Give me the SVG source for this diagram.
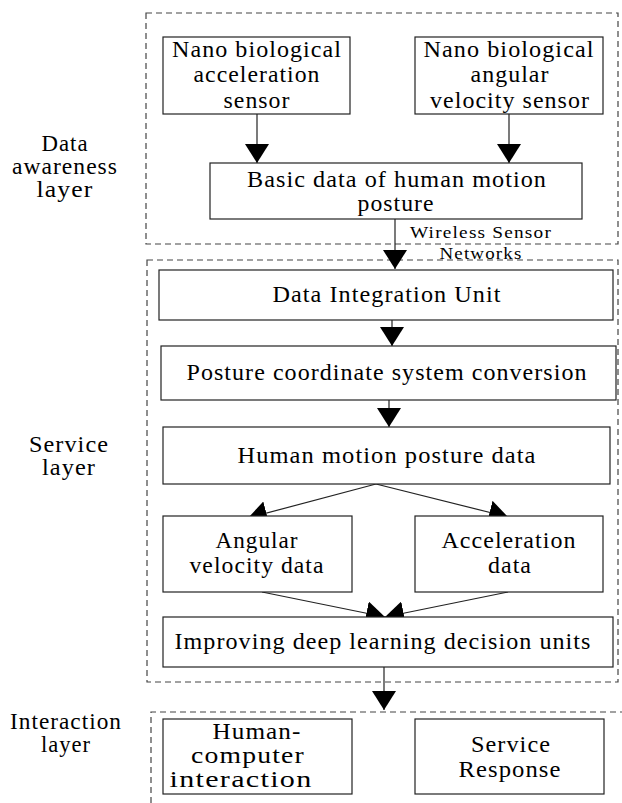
<svg xmlns="http://www.w3.org/2000/svg" width="622" height="803" viewBox="0 0 622 803">
  <style>
    .layer { fill: none; stroke: #444; stroke-width: 1.2; stroke-dasharray: 6 4; }
    .box { fill: #fff; stroke: #222; stroke-width: 1.2; }
    .t { font-family: "Liberation Serif", "Times New Roman", serif; font-size: 23px; letter-spacing: 1px; fill: #000; text-anchor: middle; }
    .small { font-size: 16px; }
    .edge { fill: none; stroke: #222; stroke-width: 1.2; }
  </style>
  <defs>
    <marker id="arrow" markerUnits="userSpaceOnUse" markerWidth="20" markerHeight="24" refX="19" refY="12" orient="auto">
      <path d="M0,0 L19,12 L0,24 Z" fill="#000"/>
    </marker>
  </defs>
  <rect width="622" height="803" fill="#fff"/>

  <!-- layer frames -->
  <g id="layers">
    <rect class="layer" x="146" y="13" width="472" height="231"/>
    <rect class="layer" x="147" y="260" width="471" height="422"/>
    <path class="layer" d="M151,803 L151,712 L622,712"/>
  </g>

  <!-- layer captions -->
  <g id="layer-labels">
    <text class="t" x="65" y="151" textLength="47" lengthAdjust="spacingAndGlyphs">Data</text>
    <text class="t" x="65" y="174" textLength="106" lengthAdjust="spacingAndGlyphs">awareness</text>
    <text class="t" x="65" y="197" textLength="57" lengthAdjust="spacingAndGlyphs">layer</text>
    <text class="t" x="69" y="452" textLength="80" lengthAdjust="spacingAndGlyphs">Service</text>
    <text class="t" x="69" y="475" textLength="54" lengthAdjust="spacingAndGlyphs">layer</text>
    <text class="t" x="66" y="729" textLength="112" lengthAdjust="spacingAndGlyphs">Interaction</text>
    <text class="t" x="66" y="752" textLength="50" lengthAdjust="spacingAndGlyphs">layer</text>
  </g>

  <!-- connectors -->
  <g id="connectors">
    <line class="edge" x1="257" y1="114" x2="257" y2="163" marker-end="url(#arrow)"/>
    <line class="edge" x1="509" y1="114" x2="509" y2="163" marker-end="url(#arrow)"/>
    <line class="edge" x1="395" y1="219" x2="395" y2="269" marker-end="url(#arrow)"/>
    <line class="edge" x1="392" y1="320" x2="392" y2="346" marker-end="url(#arrow)"/>
    <line class="edge" x1="389" y1="400" x2="389" y2="427" marker-end="url(#arrow)"/>
    <line class="edge" x1="376" y1="484" x2="248" y2="518" marker-end="url(#arrow)"/>
    <line class="edge" x1="376" y1="484" x2="508" y2="517" marker-end="url(#arrow)"/>
    <line class="edge" x1="262" y1="592" x2="385" y2="617" marker-end="url(#arrow)"/>
    <line class="edge" x1="508" y1="592" x2="385" y2="617" marker-end="url(#arrow)"/>
    <line class="edge" x1="384" y1="667" x2="384" y2="710" marker-end="url(#arrow)"/>
    <text class="t small" x="481" y="238" textLength="142" lengthAdjust="spacingAndGlyphs">Wireless Sensor</text>
    <text class="t small" x="481" y="259" textLength="83" lengthAdjust="spacingAndGlyphs">Networks</text>
  </g>

  <g id="accel-sensor">
    <rect class="box" x="163" y="37" width="187" height="77"/>
    <text class="t" x="257" y="57" textLength="170" lengthAdjust="spacingAndGlyphs">Nano biological</text>
    <text class="t" x="257" y="82" textLength="127" lengthAdjust="spacingAndGlyphs">acceleration</text>
    <text class="t" x="257" y="108" textLength="67" lengthAdjust="spacingAndGlyphs">sensor</text>
  </g>

  <g id="angular-sensor">
    <rect class="box" x="415" y="37" width="188" height="77"/>
    <text class="t" x="509" y="57" textLength="171" lengthAdjust="spacingAndGlyphs">Nano biological</text>
    <text class="t" x="510" y="82" textLength="79" lengthAdjust="spacingAndGlyphs">angular</text>
    <text class="t" x="510" y="108" textLength="160" lengthAdjust="spacingAndGlyphs">velocity sensor</text>
  </g>

  <g id="basic-data">
    <rect class="box" x="210" y="163" width="372" height="56"/>
    <text class="t" x="397" y="187" textLength="300" lengthAdjust="spacingAndGlyphs">Basic data of human motion</text>
    <text class="t" x="396" y="211" textLength="77" lengthAdjust="spacingAndGlyphs">posture</text>
  </g>

  <g id="integration-unit">
    <rect class="box" x="159" y="270" width="454" height="50"/>
    <text class="t" x="387" y="302" textLength="229" lengthAdjust="spacingAndGlyphs">Data Integration Unit</text>
  </g>

  <g id="coordinate-conversion">
    <rect class="box" x="161" y="346" width="455" height="54"/>
    <text class="t" x="387" y="380" textLength="401" lengthAdjust="spacingAndGlyphs">Posture coordinate system conversion</text>
  </g>

  <g id="posture-data">
    <rect class="box" x="163" y="427" width="447" height="57"/>
    <text class="t" x="387" y="463" textLength="299" lengthAdjust="spacingAndGlyphs">Human motion posture data</text>
  </g>

  <g id="angular-data">
    <rect class="box" x="163" y="516" width="189" height="76"/>
    <text class="t" x="257" y="548" textLength="83" lengthAdjust="spacingAndGlyphs">Angular</text>
    <text class="t" x="257" y="573" textLength="135" lengthAdjust="spacingAndGlyphs">velocity data</text>
  </g>

  <g id="acceleration-data">
    <rect class="box" x="415" y="516" width="188" height="76"/>
    <text class="t" x="509" y="548" textLength="135" lengthAdjust="spacingAndGlyphs">Acceleration</text>
    <text class="t" x="510" y="573" textLength="44" lengthAdjust="spacingAndGlyphs">data</text>
  </g>

  <g id="decision-units">
    <rect class="box" x="163" y="617" width="450" height="50"/>
    <text class="t" x="383" y="649" textLength="417" lengthAdjust="spacingAndGlyphs">Improving deep learning decision units</text>
  </g>

  <g id="hci">
    <rect class="box" x="163" y="719" width="189" height="75"/>
    <text class="t" x="257" y="739" textLength="89" lengthAdjust="spacingAndGlyphs">Human-</text>
    <text class="t" x="248" y="763" textLength="114" lengthAdjust="spacingAndGlyphs">computer</text>
    <text class="t" x="241" y="787" textLength="143" lengthAdjust="spacingAndGlyphs">interaction</text>
  </g>

  <g id="service-response">
    <rect class="box" x="415" y="719" width="189" height="75"/>
    <text class="t" x="511" y="752" textLength="80" lengthAdjust="spacingAndGlyphs">Service</text>
    <text class="t" x="510" y="777" textLength="103" lengthAdjust="spacingAndGlyphs">Response</text>
  </g>
</svg>
